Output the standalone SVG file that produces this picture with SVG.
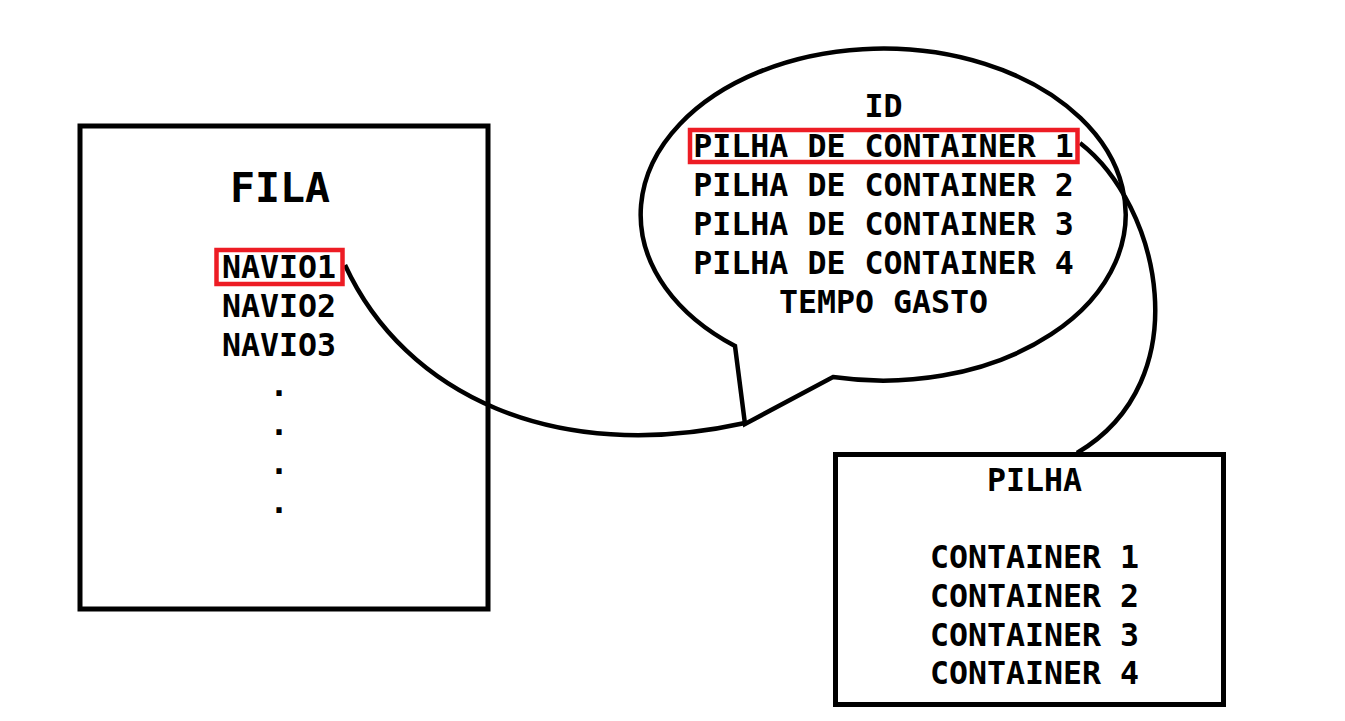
<svg xmlns="http://www.w3.org/2000/svg" width="1345" height="721" viewBox="0 0 1345 721">
<style>
.box{fill:none;stroke:#000;stroke-width:5}
.hl{fill:none;stroke:#ED1C24;stroke-width:4.5}
.line{fill:none;stroke:#000;stroke-width:4.5;stroke-linejoin:miter}
text{font-family:"DejaVu Sans Mono","Liberation Mono",monospace;font-weight:bold;font-size:31.6px;fill:#000;text-anchor:middle}
.title{font-size:41.5px}
</style>
<rect width="1345" height="721" fill="#fff"/>
<g id="connectors">
<path class="line" d="M345 265 C405 395 555 465 745 423"/>
<path class="line" d="M1080 143 C1160 205 1200 380 1077 453"/>
</g>
<g id="fila">
<rect class="box" x="80" y="126" width="408" height="483"/>
<text class="title" x="280" y="202">FILA</text>
<rect class="hl" x="216.5" y="250" width="126" height="34"/>
<text x="279" y="278">NAVIO1</text>
<text x="279" y="317">NAVIO2</text>
<text x="279" y="356">NAVIO3</text>
<text x="279" y="396">.</text>
<text x="279" y="435">.</text>
<text x="279" y="474">.</text>
<text x="279" y="513">.</text>
</g>
<g id="navio">
<path class="line" d="M735 346 L745 424 L833 377 A242.5 166 0 1 0 735 346 Z"/>
<text x="883.5" y="117">ID</text>
<rect class="hl" x="690" y="130" width="387.5" height="32"/>
<text x="883.5" y="157">PILHA DE CONTAINER 1</text>
<text x="883.5" y="196">PILHA DE CONTAINER 2</text>
<text x="883.5" y="235">PILHA DE CONTAINER 3</text>
<text x="883.5" y="274">PILHA DE CONTAINER 4</text>
<text x="883.5" y="313">TEMPO GASTO</text>
</g>
<g id="pilha">
<rect class="box" x="835.5" y="454.5" width="388" height="250"/>
<text x="1034.5" y="491">PILHA</text>
<text x="1034.5" y="568">CONTAINER 1</text>
<text x="1034.5" y="607">CONTAINER 2</text>
<text x="1034.5" y="646">CONTAINER 3</text>
<text x="1034.5" y="684">CONTAINER 4</text>
</g>
</svg>
